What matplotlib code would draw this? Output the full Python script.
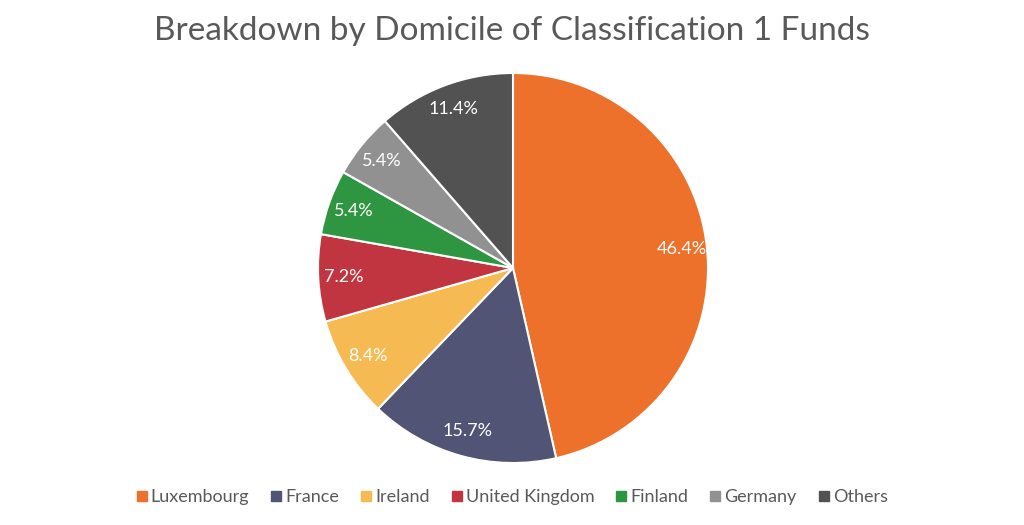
import matplotlib.pyplot as plt
from matplotlib.lines import Line2D

plt.rcParams['font.family'] = ['Lato', 'DejaVu Sans']

categories = ["Luxembourg", "France", "Ireland", "United Kingdom", "Finland", "Germany", "Others"]
shares = [46.4, 15.7, 8.4, 7.2, 5.4, 5.4, 11.4]
colors = ["#ED712B", "#515474", "#F5BA52", "#C03540", "#2E9640", "#909190", "#525252"]

fig = plt.figure(figsize=(10.24, 5.25), dpi=100)
ax = fig.add_axes([0, 0, 1, 1])

wedges, texts, autotexts = ax.pie(
    shares, colors=colors, startangle=90, counterclock=False,
    center=(513, 257), radius=195, frame=True,
    autopct=lambda p: f"{p:.1f}%", pctdistance=0.87,
    wedgeprops=dict(edgecolor="white", linewidth=1.5),
    textprops=dict(color="white", fontsize=13),
)
ax.set_xlim(0, 1024)
ax.set_ylim(0, 525)
ax.set_aspect("equal")
ax.axis("off")

fig.text(0.5, 0.94, "Breakdown by Domicile of Classification 1 Funds",
         ha="center", va="center", fontsize=24, color="#595959")

handles = [Line2D([], [], marker="s", linestyle="", markersize=7,
                  markerfacecolor=c, markeredgecolor=c) for c in colors]
fig.legend(handles, categories, loc="center", bbox_to_anchor=(0.5, 0.053),
           ncol=len(categories), frameon=False, fontsize=13,
           handlelength=0.6, handletextpad=0.2, columnspacing=1.2,
           labelcolor="#595959")

fig.savefig("out.png", dpi=100)
